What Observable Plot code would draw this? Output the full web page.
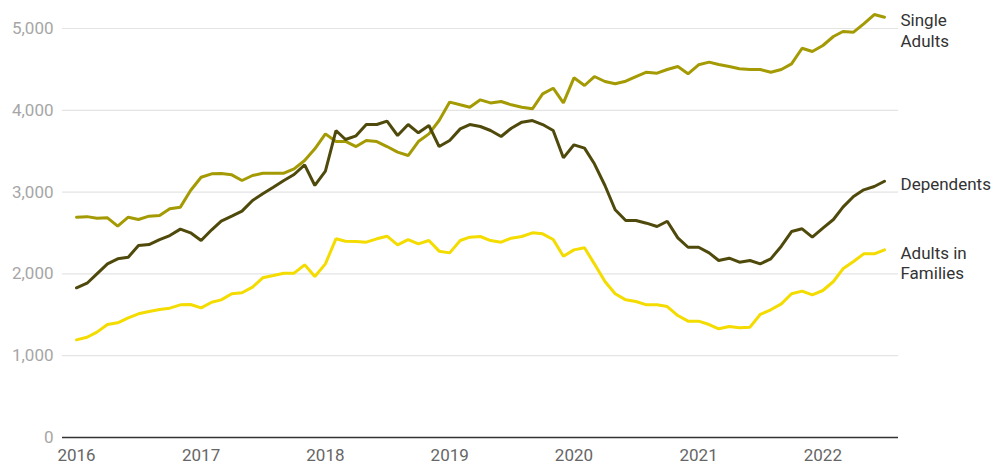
<!DOCTYPE html>
<html>
<head>
<meta charset="utf-8">
<script src="https://cdn.jsdelivr.net/npm/d3@7"></script>
<script src="https://cdn.jsdelivr.net/npm/@observablehq/plot@0.6"></script>
<style>
  html, body { margin: 0; padding: 0; background: #fff; }
  #chart { width: 994px; height: 465px; }
</style>
</head>
<body>
<div id="chart"></div>
<script>
// Monthly series, Jan 2016 – Jul 2022
const startMonth = new Date(Date.UTC(2016, 0, 1));
const endMonth = new Date(Date.UTC(2022, 7, 1));

const seriesNames = ["Single Adults", "Dependents", "Adults in Families"];
const seriesLabels = ["Single\nAdults", "Dependents", "Adults in\nFamilies"];
const seriesColors = ["#a49a04", "#4f4a0b", "#f4dc00"];

const singleAdults = [
  2693, 2700, 2681, 2685, 2583, 2693, 2665, 2706, 2714, 2796, 2816, 3020,
  3182, 3223, 3227, 3211, 3142, 3203, 3231, 3231, 3231, 3284, 3386, 3529,
  3712, 3618, 3620, 3557, 3630, 3618, 3557, 3488, 3447, 3618, 3712, 3875,
  4100, 4067, 4038, 4128, 4090, 4107, 4067, 4038, 4018, 4200, 4270, 4090,
  4397, 4303, 4413, 4352, 4324, 4356, 4413, 4466, 4454, 4499, 4535, 4446,
  4556, 4589, 4560, 4535, 4507, 4499, 4499, 4466, 4499, 4567, 4759, 4719,
  4792, 4902, 4963, 4955, 5057, 5171, 5138
];

const dependents = [
  1830, 1886, 2001, 2123, 2184, 2204, 2347, 2359, 2420, 2469, 2547, 2502,
  2408, 2539, 2644, 2706, 2767, 2897, 2979, 3060, 3142, 3215, 3333, 3081,
  3256, 3753, 3643, 3688, 3826, 3826, 3867, 3692, 3826, 3725, 3814, 3557,
  3631, 3773, 3826, 3802, 3753, 3680, 3781, 3855, 3875, 3826, 3753, 3419,
  3578, 3537, 3346, 3081, 2784, 2653, 2653, 2620, 2579, 2644, 2441, 2326,
  2326, 2257, 2164, 2192, 2143, 2164, 2123, 2184, 2339, 2518, 2551, 2449,
  2559, 2665, 2816, 2946, 3028, 3068, 3133
];

const adultsInFamilies = [
  1194, 1226, 1288, 1381, 1402, 1463, 1512, 1540, 1565, 1581, 1622, 1626,
  1585, 1654, 1683, 1757, 1769, 1838, 1952, 1980, 2009, 2009, 2111, 1968,
  2123, 2429, 2400, 2396, 2388, 2429, 2461, 2355, 2420, 2367, 2408, 2278,
  2257, 2408, 2449, 2457, 2408, 2388, 2437, 2457, 2502, 2490, 2420, 2216,
  2294, 2319, 2123, 1907, 1757, 1683, 1663, 1622, 1622, 1601, 1491, 1422,
  1422, 1381, 1329, 1357, 1341, 1349, 1504, 1561, 1634, 1757, 1789, 1744,
  1797, 1907, 2062, 2152, 2245, 2245, 2294
];

const yTicks = [0, 1000, 2000, 3000, 4000, 5000];
const xTickYears = [2016, 2017, 2018, 2019, 2020, 2021, 2022];

// Build table
const months = d3.utcMonth.range(startMonth, endMonth);
const valueLists = [singleAdults, dependents, adultsInFamilies];
const rows = [];
seriesNames.forEach((name, s) => {
  valueLists[s].forEach((v, i) => rows.push({series: name, date: months[i], value: v}));
});
const lastRows = seriesNames.map((name, s) => ({
  series: name,
  label: seriesLabels[s],
  date: months[valueLists[s].length - 1],
  value: valueLists[s][valueLists[s].length - 1]
}));
const xTicks = xTickYears.map(y => new Date(Date.UTC(y, 0, 1)));

const chart = Plot.plot({
  width: 994,
  height: 465,
  marginLeft: 62,
  marginRight: 96,
  marginTop: 28,
  marginBottom: 28,
  style: {fontFamily: "Roboto, sans-serif", fontSize: "17px", background: "#fff"},
  x: {type: "utc", domain: [months[0], months[months.length - 1]], range: [76, 884]},
  y: {domain: [0, 5000]},
  color: {domain: seriesNames, range: seriesColors},
  marks: [
    Plot.ruleY(yTicks.filter(d => d > 0), {stroke: "#e4e4e4", strokeWidth: 1.2}),
    Plot.axisY(yTicks, {tickSize: 0, tickPadding: 9, tickFormat: d3.format(","), fill: "#a6a6a6", fontSize: 17, label: null}),
    Plot.axisX(xTicks, {tickSize: 0, tickPadding: 11, tickFormat: d3.utcFormat("%Y"), fill: "#666", fontSize: 17, label: null}),
    Plot.ruleY([0], {stroke: "#333", strokeWidth: 1.5}),
    Plot.line(rows, {x: "date", y: "value", z: "series", stroke: "series", strokeWidth: 3, strokeLinejoin: "miter"}),
    Plot.text(lastRows, {
      x: "date", y: "value", text: "label",
      textAnchor: "start", lineAnchor: "top", dx: 16, dy: -6,
      fill: "#333", fontSize: 17, lineHeight: 1.22
    })
  ]
});
document.getElementById("chart").appendChild(chart);
</script>
</body>
</html>
